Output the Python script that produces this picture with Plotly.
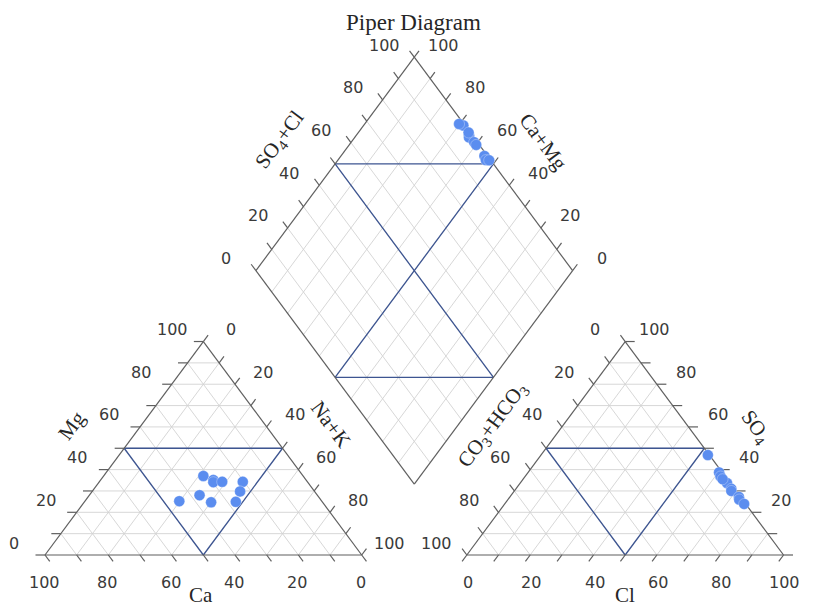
import math
import plotly.graph_objects as go

# ---------------- data (meq %) ----------------
title_text = "Piper Diagram"
tick_values = [0, 20, 40, 60, 80, 100]

# cations
ca = [31.5, 29.3, 29.8, 26.9, 20.4, 23.5, 37.2, 35.2, 27.3, 45.0]
mg = [37.0, 35.1, 34.1, 34.3, 34.3, 29.8, 28.0, 24.7, 24.9, 25.2]
nak = [31.5, 35.6, 36.1, 38.8, 45.3, 46.7, 34.8, 40.1, 47.8, 29.8]

# anions
hco3 = [0.5, 1.0, 1.5, 1.0, 1.0, 1.5, 0.5, 1.0, 0.5, 1.5]
so4 = [46.8, 38.7, 36.8, 33.7, 31.0, 30.0, 27.2, 26.0, 23.9, 35.5]
cl = [52.7, 60.3, 61.7, 65.3, 68.0, 68.5, 72.3, 73.0, 75.6, 63.0]

# ---------------- geometry ----------------
S3 = math.sqrt(3) / 2
GAP = 33.2
OFF = 100 + GAP              # x offset of anion triangle
BX, BY = 100 + GAP / 2, GAP * S3   # bottom vertex of diamond


def cat_xy(c, m, n):
    t = c + m + n
    m, n = 100 * m / t, 100 * n / t
    return n + m / 2, m * S3


def an_xy(h, s, c):
    t = h + s + c
    s, c = 100 * s / t, 100 * c / t
    return OFF + c + s / 2, s * S3


def dia_xy(camg, so4cl):
    return BX + 0.5 * (so4cl - camg), BY + S3 * (camg + so4cl)


segs = {"grid": ([], []), "blue": ([], []), "border": ([], [])}


def seg(kind, p, q):
    xs, ys = segs[kind]
    xs += [p[0], q[0], None]
    ys += [p[1], q[1], None]


TL = 3.0  # tick length (data units)
ann = []

LABEL_FONT = dict(family="DejaVu Sans", size=16, color="#3a3a3a")
TITLE_FONT = dict(family="Liberation Serif", size=21, color="#262626")


def tick(p, d, label, xs, ys):
    q = (p[0] + d[0] * TL, p[1] + d[1] * TL)
    seg("border", p, q)
    if label is not None:
        ann.append(dict(x=p[0], y=p[1], text=str(label), showarrow=False,
                        xshift=xs, yshift=ys, font=LABEL_FONT,
                        xanchor="center", yanchor="middle"))


# ---- cation triangle ----
A, B, C = cat_xy(0, 100, 0), cat_xy(100, 0, 0), cat_xy(0, 0, 100)
seg("border", B, A); seg("border", A, C); seg("border", B, C)
for k in range(10, 100, 10):
    seg("grid", cat_xy(100 - k, k, 0), cat_xy(0, k, 100 - k))
    seg("grid", cat_xy(100 - k, 0, k), cat_xy(0, 100 - k, k))
    seg("grid", cat_xy(k, 100 - k, 0), cat_xy(k, 0, 100 - k))
seg("blue", cat_xy(50, 50, 0), cat_xy(0, 50, 50))
seg("blue", cat_xy(50, 50, 0), cat_xy(50, 0, 50))
seg("blue", cat_xy(0, 50, 50), cat_xy(50, 0, 50))
for k in range(0, 101, 10):
    lab = k if k in tick_values else None
    tick(cat_xy(100 - k, k, 0), (-1, 0), lab, -31, 12)          # Mg
    tick(cat_xy(0, 100 - k, k), (0.5, S3), lab, 28, 12)         # Na+K
    tick(cat_xy(k, 0, 100 - k), (0.5, -S3), lab, -1, -27)       # Ca

# ---- anion triangle ----
A2, B2, C2 = an_xy(0, 100, 0), an_xy(100, 0, 0), an_xy(0, 0, 100)
seg("border", B2, A2); seg("border", A2, C2); seg("border", B2, C2)
for k in range(10, 100, 10):
    seg("grid", an_xy(100 - k, k, 0), an_xy(0, k, 100 - k))
    seg("grid", an_xy(100 - k, 0, k), an_xy(0, 100 - k, k))
    seg("grid", an_xy(k, 100 - k, 0), an_xy(k, 0, 100 - k))
seg("blue", an_xy(50, 50, 0), an_xy(0, 50, 50))
seg("blue", an_xy(50, 50, 0), an_xy(50, 0, 50))
seg("blue", an_xy(0, 50, 50), an_xy(50, 0, 50))
for k in range(0, 101, 10):
    lab = k if k in tick_values else None
    tick(an_xy(0, k, 100 - k), (1, 0), lab, 29, 12)             # SO4
    tick(an_xy(k, 100 - k, 0), (-0.5, S3), lab, -30, 12)        # CO3+HCO3
    tick(an_xy(100 - k, 0, k), (-0.5, -S3), lab, 1, -27)        # Cl

# ---- diamond ----
D0, DL, DT, DR = dia_xy(0, 0), dia_xy(100, 0), dia_xy(100, 100), dia_xy(0, 100)
seg("border", D0, DL); seg("border", DL, DT); seg("border", DT, DR); seg("border", DR, D0)
for k in range(10, 100, 10):
    seg("grid", dia_xy(k, 0), dia_xy(k, 100))
    seg("grid", dia_xy(0, k), dia_xy(100, k))
seg("blue", dia_xy(100, 50), dia_xy(50, 100))
seg("blue", dia_xy(50, 0), dia_xy(0, 50))
seg("blue", dia_xy(100, 50), dia_xy(0, 50))
seg("blue", dia_xy(50, 0), dia_xy(50, 100))
for k in range(0, 101, 10):
    lab = k if k in tick_values else None
    tick(dia_xy(100, k), (-0.5, S3), lab, -30, 12)              # SO4+Cl
    tick(dia_xy(k, 100), (0.5, S3), lab, 29, 12)                # Ca+Mg

# ---------------- points ----------------
cx, cy = zip(*[cat_xy(a, b, c) for a, b, c in zip(ca, mg, nak)])
ax_, ay_ = zip(*[an_xy(a, b, c) for a, b, c in zip(hco3, so4, cl)])
dx, dy = zip(*[dia_xy(a + b, s + c) for a, b, s, c in zip(ca, mg, so4, cl)])

fig = go.Figure()
fig.add_trace(go.Scatter(x=segs["grid"][0], y=segs["grid"][1], mode="lines",
                         line=dict(color="#d2d2d2", width=0.9), hoverinfo="skip"))
fig.add_trace(go.Scatter(x=segs["blue"][0], y=segs["blue"][1], mode="lines",
                         line=dict(color="#3d5591", width=1.3), hoverinfo="skip"))
fig.add_trace(go.Scatter(x=segs["border"][0], y=segs["border"][1], mode="lines",
                         line=dict(color="#5f5f5f", width=1.2), hoverinfo="skip"))
marker = dict(color="#5b8def", size=11, line=dict(color="rgba(255,255,255,0.5)", width=0.6))
for xs, ys in [(cx, cy), (ax_, ay_), (dx, dy)]:
    fig.add_trace(go.Scatter(x=list(xs), y=list(ys), mode="markers", marker=marker))


# ---------------- axis titles ----------------
def title_ann(p, text, xs, ys, ang):
    ann.append(dict(x=p[0], y=p[1], text=text, showarrow=False, xshift=xs, yshift=ys,
                    textangle=ang, font=TITLE_FONT, xanchor="center", yanchor="middle"))


ANG = 53.4
title_ann(cat_xy(50, 50, 0), "Mg", -52, 23, -ANG)
title_ann(cat_xy(0, 50, 50), "Na+K", 48, 24, ANG)
title_ann(cat_xy(50, 0, 50), "Ca", -2, -40, 0)
title_ann(an_xy(50, 50, 0), "CO<sub>3</sub>+HCO<sub>3</sub>", -53, 23, -ANG)
title_ann(an_xy(0, 50, 50), "SO<sub>4</sub>", 51, 21, ANG)
title_ann(an_xy(50, 0, 50), "Cl", 0, -40, 0)
title_ann(dia_xy(100, 50), "SO<sub>4</sub>+Cl", -55, 24, -ANG)
title_ann(dia_xy(50, 100), "Ca+Mg", 50, 22, ANG)
ann.append(dict(x=DT[0], y=DT[1], text=title_text, showarrow=False, xshift=-1, yshift=35,
                font=dict(family="Liberation Serif", size=23, color="#262626"),
                xanchor="center", yanchor="middle"))

# the page body has an 8px margin: figure origin sits at (8, 8) in the window
# window px: x = 45 + 3.167*u ; y = 555 - 2.465*v
W, H = 805, 599
X0, Y0 = 45 - 8, 555 - 8
XS, YS = 3.167, 2.465
x_range = [-X0 / XS, (W - X0) / XS]
y_range = [-(H - Y0) / YS, Y0 / YS]

fig.update_layout(
    width=W, height=H, margin=dict(l=0, r=0, t=0, b=0),
    paper_bgcolor="white", plot_bgcolor="white", showlegend=False,
    xaxis=dict(range=x_range, visible=False, fixedrange=True),
    yaxis=dict(range=y_range, visible=False, fixedrange=True),
    annotations=ann,
)
fig.write_html("out.html")
